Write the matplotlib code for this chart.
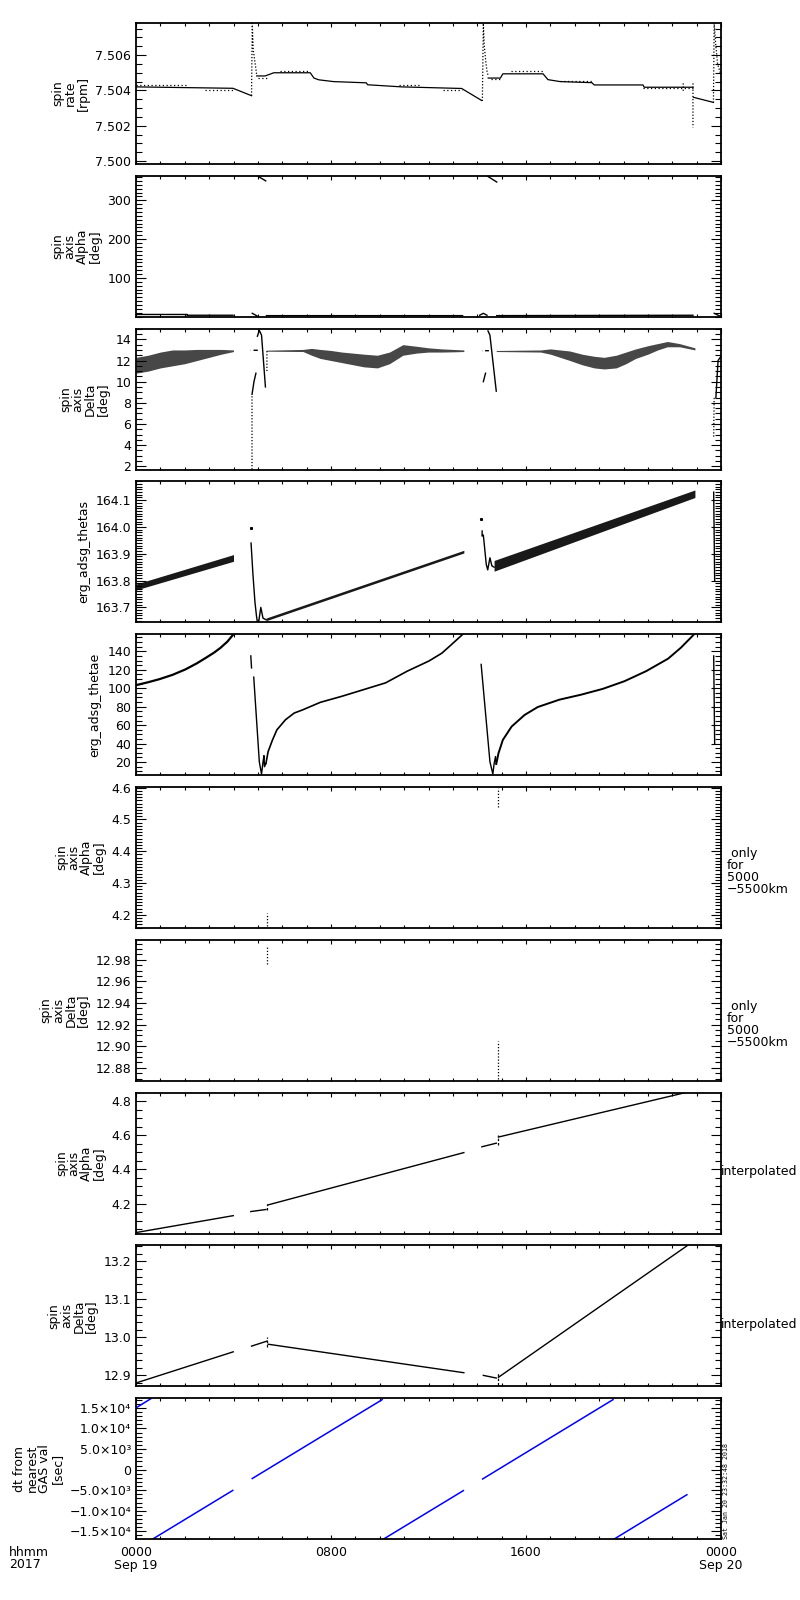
import numpy as np
import matplotlib
matplotlib.use('Agg')
import matplotlib.pyplot as plt
from matplotlib.ticker import MultipleLocator, FixedLocator, FixedFormatter, FormatStrFormatter

nan = np.nan

# ---------------- data (hours since 2017-09-19 00:00) ----------------
x_ticks = [0, 8, 16, 24]
x_labels = ["0000\nSep 19", "0800", "1600", "0000\nSep 20"]

# panel 1 : spin rate [rpm]
rate_t = [0.0, 3.98, 4.74, nan, 4.95, 5.30, 5.50, 5.65, 7.15, 7.30, 7.50, 8.10, 9.45, 9.50, 10.90, 13.36, 14.18,
          nan, 14.45, 14.95, 15.05, 16.70, 16.90, 17.40, 18.70, 18.80, 20.80, 20.85, 22.85, nan, 22.87, 23.69]
rate_v = [7.50420, 7.50412, 7.50370, nan, 7.50482, 7.50482, 7.50492, 7.50500, 7.50500, 7.50470, 7.50460, 7.50450,
          7.50443, 7.50432, 7.50420, 7.50411, 7.50343, nan, 7.50470, 7.50470, 7.50494, 7.50494, 7.50461, 7.50450,
          7.50444, 7.50431, 7.50431, 7.50418, 7.50418, nan, 7.50361, 7.50332]
rate_aux_t = [0.0, 2.10, nan, 2.85, 3.98, nan, 5.00, 5.40, nan, 5.90, 7.15, nan, 10.80, 11.60, nan, 12.60, 13.36,
              nan, 14.55, 14.96, nan, 15.40, 16.70, nan, 17.40, 18.70, nan, 20.80, 22.85]
rate_aux_v = [7.50432, 7.50432, nan, 7.50402, 7.50402, nan, 7.50472, 7.50472, nan, 7.50510, 7.50510, nan,
              7.50430, 7.50430, nan, 7.50404, 7.50404, nan, 7.50463, 7.50463, nan, 7.50509, 7.50509, nan,
              7.50453, 7.50453, nan, 7.50411, 7.50411]
rate_sp_t = [4.74, 4.77, 4.81, 4.88, 4.95, nan, 14.21, 14.25, 14.29, 14.36, 14.41, 14.45, nan, 22.45, 22.45,
             nan, 22.85, 22.85, nan, 23.69, 23.72, 23.79, 23.86, 23.97]
rate_sp_v = [7.5037, 7.5078, 7.5063, 7.5056, 7.5049, nan, 7.5034, 7.5078, 7.5065, 7.5055, 7.5050, 7.50485, nan,
             7.5044, 7.5039, nan, 7.5044, 7.5019, nan, 7.5033, 7.5078, 7.5065, 7.5055, 7.5050]

# panel 2 : spin axis Alpha [deg]
alpha_t = [0.0, 2.10, 2.10, 3.98, nan, 4.77, 5.00, nan, 5.35, 13.40, nan, 14.10, 14.25, 14.40, nan, 14.80, 22.85,
           nan, 23.72, 23.95]
alpha_v = [6, 6, 4, 4, nan, 9, 1, nan, 3, 3, nan, 4, 9, 4, nan, 3, 4, nan, 9, 2]
alpha_top_t = [4.99, 5.32, nan, 14.41, 14.80]
alpha_top_v = [362.5, 350, nan, 362.5, 347]

# panel 3 : spin axis Delta [deg]  (scatter bands: lower / upper envelope)
dl_b1_t = [0.0, 0.5, 1.0, 1.5, 2.0, 2.5, 3.0, 3.5, 4.0]
dl_b1_lo = [10.8, 11.0, 11.3, 11.5, 11.7, 12.0, 12.3, 12.6, 12.85]
dl_b1_hi = [12.3, 12.5, 12.8, 13.0, 13.0, 13.05, 13.05, 13.05, 13.0]
dl_b2_t = [5.35, 6.85, 7.2, 7.55, 8.0, 8.45, 8.9, 9.35, 9.9, 10.4, 10.95, 11.5, 12.0, 12.55, 13.0, 13.45]
dl_b2_lo = [12.88, 12.85, 12.5, 12.2, 12.0, 11.8, 11.6, 11.4, 11.3, 11.7, 12.5, 12.7, 12.8, 12.8, 12.82, 12.85]
dl_b2_hi = [12.98, 13.05, 13.15, 13.05, 12.95, 12.8, 12.7, 12.6, 12.5, 12.8, 13.5, 13.35, 13.2, 13.1, 13.05, 13.0]
dl_b3_t = [14.78, 16.6, 17.0, 17.4, 17.8, 18.3, 18.8, 19.2, 19.7, 20.1, 20.5, 21.0, 21.4, 21.8, 22.3, 22.93]
dl_b3_lo = [12.85, 12.8, 12.6, 12.3, 12.0, 11.6, 11.3, 11.2, 11.3, 11.7, 12.2, 12.6, 13.0, 13.3, 13.3, 13.0]
dl_b3_hi = [12.95, 13.0, 13.1, 13.0, 12.9, 12.6, 12.4, 12.3, 12.5, 12.8, 13.1, 13.4, 13.6, 13.8, 13.6, 13.2]
dl_ev_t = [4.76, 4.84, 4.92, nan, 4.98, 5.06, 5.15, 5.31, nan, 14.25, 14.34, nan, 14.44, 14.52, 14.78, nan,
           23.79, 23.88, 24.0, nan, 4.85, 4.97, nan, 14.35, 14.45]
dl_ev_v = [8.8, 10.0, 10.8, nan, 14.3, 14.85, 14.4, 9.5, nan, 10.0, 10.8, nan, 14.8, 14.4, 9.1, nan,
           8.5, 12.0, 12.4, nan, 12.97, 12.97, nan, 12.93, 12.93]
dl_dot_t = [4.76, 4.76, nan, 5.37, 5.37, nan, 23.70, 23.72, nan, 4.70, 4.71, nan, 14.22, 14.23]
dl_dot_v = [1.7, 8.8, nan, 11.0, 13.0, nan, 4.8, 8.5, nan, 12.97, 12.97, nan, 12.92, 12.92]

# panel 4 : erg_adsg_thetas
th_b1_t = [0.0, 4.0]
th_b1_lo = [163.765, 163.872]
th_b1_hi = [163.787, 163.897]
th_ev_t = [4.72, 4.80, 4.88, 4.94, 4.98, nan, 5.03, 5.12, 5.21, 5.33, nan,
           14.20, 14.20, 14.25, 14.37, 14.43, 14.52, 14.60, 14.69, nan, 23.70, 23.74]
th_ev_v = [163.94, 163.82, 163.72, 163.67, 163.644, nan, 163.644, 163.700, 163.660, 163.654, nan,
           163.985, 163.966, 163.97, 163.86, 163.84, 163.885, 163.855, 163.85, nan, 164.13, 163.80]
th_l2_t = [5.33, 13.45]
th_l2_lo = [163.650, 163.903]
th_l2_hi = [163.660, 163.913]
th_b2_t = [14.69, 22.93]
th_b2_lo = [163.835, 164.110]
th_b2_hi = [163.875, 164.138]
th_pt_t = [4.71, 14.16]
th_pt_v = [163.996, 164.03]

# panel 5 : erg_adsg_thetae
te1_t = [0.0, 0.5, 0.96, 1.5, 2.03, 2.5, 2.92, 3.2, 3.46, 3.75, 4.0]
te1_v = [103.3, 106.5, 109.8, 114.5, 120.4, 127.0, 133.8, 138.5, 143.6, 150.5, 158.5]
te_ev_t = [4.71, 4.74, nan, 4.83, 5.06, 5.15, 5.21, 5.25, 5.27, 5.33, nan,
           14.16, 14.52, 14.64, 14.69, 14.75, 14.78, nan, 23.70, 23.74]
te_ev_v = [135, 122, nan, 112, 20, 7, 20, 27, 15, 18.5, nan,
           125.8, 20.4, 7.0, 18.0, 26.0, 18.0, nan, 135, 40]
te2_t = [5.33, 5.42, 5.60, 5.78, 6.13, 6.49, 6.85, 7.56, 8.45, 9.34, 10.24, 11.13, 12.02, 12.55, 12.91, 13.41]
te2_v = [18.5, 31.3, 44.0, 54.9, 65.8, 73.1, 76.7, 84.7, 91.3, 98.5, 105.8, 118.5, 129.5, 138.0, 146.5, 158.5]
te3_t = [14.78, 14.87, 15.05, 15.41, 15.94, 16.48, 17.37, 18.26, 19.15, 20.04, 20.93, 21.83, 22.36, 22.90]
te3_v = [18.0, 29.5, 44.0, 58.5, 71.0, 79.6, 87.6, 93.0, 99.3, 107.6, 118.5, 132.0, 144.0, 158.5]

# panel 6 / 7 : spin axis only for 5000-5500 km
ga_t = [5.385, 5.385, nan, 14.87, 14.87]
ga_v = [4.165, 4.205, nan, 4.54, 4.60]
gd_t = [5.385, 5.385, nan, 14.87, 14.87]
gd_v = [12.976, 12.992, nan, 12.870, 12.905]

# panel 8 / 9 : interpolated spin axis
ia_t = [0.0, 3.99, nan, 4.71, 5.33, nan, 5.42, 13.45, nan, 14.19, 14.78, nan, 14.87, 22.54]
ia_v = [4.030, 4.129, nan, 4.153, 4.165, nan, 4.192, 4.498, nan, 4.532, 4.553, nan, 4.589, 4.849]
ia_dash_t = [5.385, 5.385, nan, 14.87, 14.87]
ia_dash_v = [4.16, 4.20, nan, 4.54, 4.60]
id_t = [0.0, 3.99, nan, 4.74, 5.37, nan, 5.42, 13.45, nan, 14.25, 14.78, nan, 14.87, 22.63]
id_v = [12.880, 12.962, nan, 12.977, 12.990, nan, 12.982, 12.907, nan, 12.900, 12.893, nan, 12.895, 13.242]
id_dash_t = [5.385, 5.385, nan, 14.87, 14.87]
id_dash_v = [12.975, 13.000, nan, 12.875, 12.910]

# panel 10 : dt from nearest GAS value [sec]
dt_t = [0.0, 0.60, nan, 0.62, 3.97, nan, 4.77, 10.10, nan, 10.12, 13.43, nan, 14.22, 19.57, nan, 19.58, 22.60]
dt_v = [15000, 17200, nan, -17100, -5050, nan, -2160, 17000, nan, -17000, -5100, nan, -2270, 17000, nan,
        -17000, -6100]
dt_ticks = [-15000, -10000, -5000, 0, 5000, 10000, 15000]
dt_labels = ["\u22121.5\u00d710\u2074", "\u22121.0\u00d710\u2074", "\u22125.0\u00d710\u00b3", "0",
             "5.0\u00d710\u00b3", "1.0\u00d710\u2074", "1.5\u00d710\u2074"]

ylabels = ["spin\nrate\n[rpm]", "spin\naxis\nAlpha\n[deg]", "spin\naxis\nDelta\n[deg]", "erg_adsg_thetas",
           "erg_adsg_thetae", "spin\naxis\nAlpha\n[deg]", "spin\naxis\nDelta\n[deg]", "spin\naxis\nAlpha\n[deg]",
           "spin\naxis\nDelta\n[deg]", "dt from\nnearest\nGAS val\n[sec]"]

# ---------------- figure ----------------
plt.rcParams['font.family'] = ['DejaVu Sans']
fig = plt.figure(figsize=(8, 16), dpi=100)
L, W, H = 136 / 800, 585 / 800, 141 / 1600
axes = []
for i in range(10):
    top = 23 + 152.8 * i
    axes.append(fig.add_axes([L, 1 - (top + 141) / 1600, W, H]))


def style(ax, ylim, major, minor, fmt=None, ticks=None, labels=None):
    ax.set_xlim(0, 24)
    ax.set_ylim(*ylim)
    ax.xaxis.set_major_locator(FixedLocator(x_ticks))
    ax.xaxis.set_minor_locator(MultipleLocator(1))
    if ticks is not None:
        ax.yaxis.set_major_locator(FixedLocator(ticks))
        if labels is not None:
            ax.yaxis.set_major_formatter(FixedFormatter(labels))
    else:
        ax.yaxis.set_major_locator(MultipleLocator(major))
    if fmt is not None:
        ax.yaxis.set_major_formatter(FormatStrFormatter(fmt))
    ax.yaxis.set_minor_locator(MultipleLocator(minor))
    ax.tick_params(which='both', direction='in', top=True, right=True, labelsize=9, colors='black')
    ax.tick_params(axis='y', which='major', length=7, width=0.8, pad=3.5)
    ax.tick_params(axis='y', which='minor', length=4, width=0.8)
    ax.tick_params(axis='x', which='major', length=3.2, width=0.8, pad=5)
    ax.tick_params(axis='x', which='minor', length=2, width=0.8)
    for s in ax.spines.values():
        s.set_linewidth(1.3)


dot = (0, (1, 1.5))
k = 'black'

ax = axes[0]
ax.plot(rate_t, rate_v, color=k, lw=0.9)
ax.plot(rate_aux_t, rate_aux_v, color=k, lw=0.9, ls=(0, (1, 2)))
ax.plot(rate_sp_t, rate_sp_v, color=k, lw=0.9, ls=dot)
style(ax, (7.49983, 7.50782), 0.002, 0.0005, '%.3f')

ax = axes[1]
ax.plot(alpha_t, alpha_v, color=k, lw=1.0)
ax.plot(alpha_top_t, alpha_top_v, color=k, lw=1.0)
style(ax, (0, 363), 100, 10, ticks=[100, 200, 300], labels=["100", "200", "300"])

ax = axes[2]
for bt, blo, bhi in ((dl_b1_t, dl_b1_lo, dl_b1_hi), (dl_b2_t, dl_b2_lo, dl_b2_hi), (dl_b3_t, dl_b3_lo, dl_b3_hi)):
    ax.fill_between(bt, blo, bhi, color=k, alpha=0.72, lw=0)
ax.plot(dl_ev_t, dl_ev_v, color=k, lw=1.0)
ax.plot(dl_dot_t, dl_dot_v, color=k, lw=0.9, ls=dot)
style(ax, (1.68, 15.02), 2, 0.5, '%d')

ax = axes[3]
ax.fill_between(th_b1_t, th_b1_lo, th_b1_hi, color=k, alpha=0.9, lw=0)
ax.fill_between(th_l2_t, th_l2_lo, th_l2_hi, color=k, alpha=0.9, lw=0)
ax.fill_between(th_b2_t, th_b2_lo, th_b2_hi, color=k, alpha=0.9, lw=0)
ax.plot(th_ev_t, th_ev_v, color=k, lw=1.0)
ax.plot(th_pt_t, th_pt_v, 's', color=k, ms=1.2)
style(ax, (163.644, 164.17), 0.1, 0.01, '%.1f')

ax = axes[4]
ax.plot(te1_t, te1_v, color=k, lw=1.6)
ax.plot(te_ev_t, te_ev_v, color=k, lw=1.0)
ax.plot(te2_t, te2_v, color=k, lw=1.2)
ax.plot(te3_t, te3_v, color=k, lw=1.4)
style(ax, (5.8, 158.5), 20, 5, '%d')

ax = axes[5]
ax.plot(ga_t, ga_v, color=k, lw=0.9, ls=dot)
style(ax, (4.159, 4.602), 0.1, 0.01, '%.1f')

ax = axes[6]
ax.plot(gd_t, gd_v, color=k, lw=0.9, ls=dot)
style(ax, (12.868, 12.9986), 0.02, 0.005, '%.2f')

ax = axes[7]
ax.plot(ia_t, ia_v, color=k, lw=1.0)
ax.plot(ia_dash_t, ia_dash_v, color=k, lw=0.9, ls=(0, (2, 1.5)))
style(ax, (4.024, 4.849), 0.2, 0.05, '%.1f')

ax = axes[8]
ax.plot(id_t, id_v, color=k, lw=1.0)
ax.plot(id_dash_t, id_dash_v, color=k, lw=0.9, ls=(0, (2, 1.5)))
style(ax, (12.871, 13.242), 0.1, 0.02, '%.1f')

ax = axes[9]
ax.plot(dt_t, dt_v, color=(0, 0, 1), lw=1.1)
style(ax, (-16900, 17350), 5000, 1000, ticks=dt_ticks, labels=dt_labels)

for i, ax in enumerate(axes):
    ax.set_ylabel(ylabels[i], fontsize=9, linespacing=0.95, labelpad=4)
    if i < 9:
        ax.tick_params(axis='x', which='both', labelbottom=False)

axes[9].set_xticks(x_ticks)
axes[9].set_xticklabels(x_labels)
for lbl in axes[9].get_xticklabels():
    lbl.set_linespacing(0.95)

fig.text(9 / 800, 1 - 1546 / 1600, "hhmm\n2017", fontsize=9, ha='left', va='top', linespacing=0.95)

for i in (5, 6):
    axes[i].text(1.010, 0.40, " only\nfor\n5000\n\u22125500km", transform=axes[i].transAxes, fontsize=9,
                 ha='left', va='center', linespacing=0.9, multialignment='left')
for i in (7, 8):
    axes[i].text(1.0, 0.44, "interpolated", transform=axes[i].transAxes, fontsize=9, ha='left', va='center')

axes[9].text(1.004, 0.0, "Sat Jan 20 23:32:48 2018", transform=axes[9].transAxes, fontsize=4.8,
             rotation=90, ha='left', va='bottom', family='DejaVu Sans Mono')

fig.savefig('out.png', dpi=100)
